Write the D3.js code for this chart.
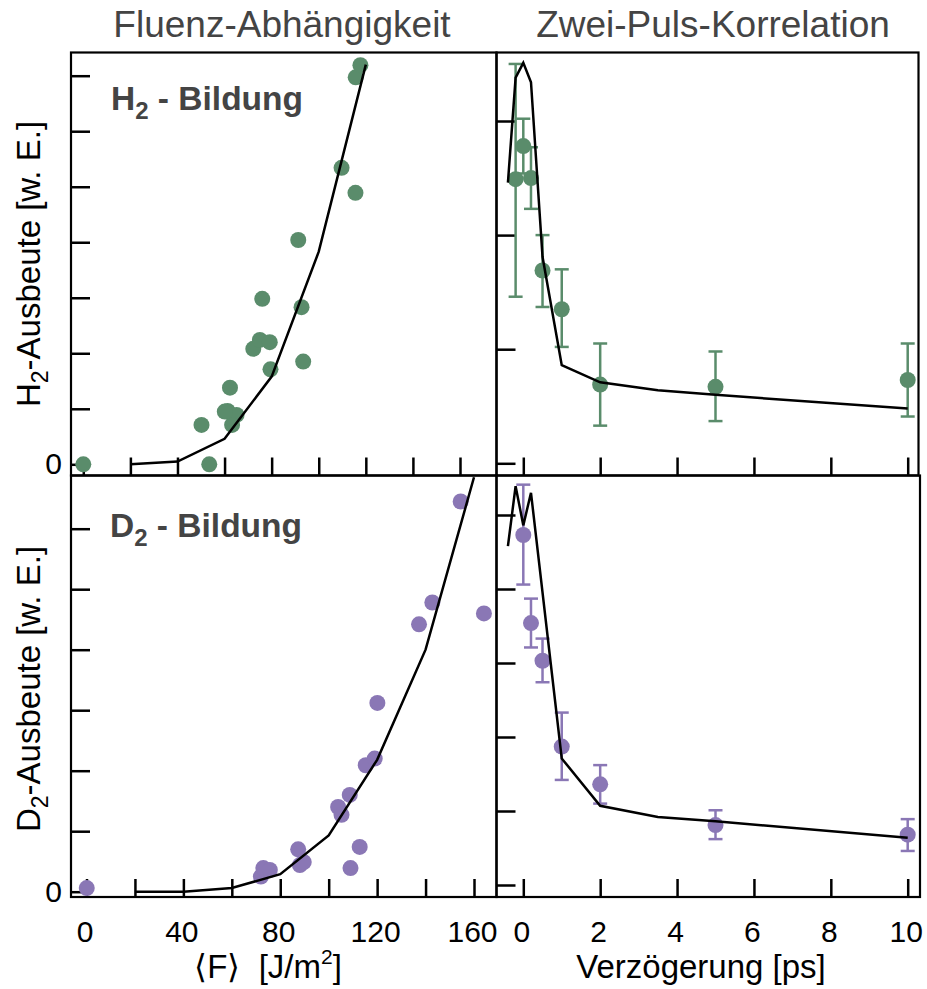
<!DOCTYPE html>
<html>
<head>
<meta charset="utf-8">
<script src="https://cdn.jsdelivr.net/npm/d3@7"></script>
<style>
  body { margin: 0; background: #fff; }
  svg { display: block; }
</style>
</head>
<body>
<svg id="chart" width="927" height="989"></svg>
<script>
// H2 yield vs. mean fluence (upper left)
let h2FluenceF = [0, 53.5, 50.2, 62.3, 61.3, 65.1, 63.2, 60.1, 72.2, 75, 79.2, 79.5, 76, 92.7, 93.4, 91.3, 109.7, 115.6, 115.7, 117.7]
let h2FluenceY = [0, 0, 0.71, 1.38, 0.96, 0.89, 0.71, 0.95, 2.08, 2.24, 2.2, 1.71, 2.98, 2.83, 1.85, 4.04, 5.34, 4.89, 6.97, 7.19]
let h2FitF = [20, 40, 60, 80, 100, 120]
let h2FitY = [0, 0.05, 0.46, 1.58, 3.83, 7.2]

// D2 yield vs. mean fluence (lower left)
let d2FluenceF = [0.1, 72, 73, 75.7, 87.4, 88.1, 89.7, 109, 112.8, 103.9, 105.3, 108.7, 115.3, 119, 120.1, 137.3, 142.8, 154.5, 164.1]
let d2FluenceY = [0.06, 0.25, 0.39, 0.36, 0.7, 0.44, 0.49, 0.39, 0.74, 1.4, 1.27, 1.6, 2.09, 2.2, 3.12, 4.42, 4.78, 6.45, 4.6]
let d2FitF = [20, 40, 60, 80, 100, 120, 140, 160]
let d2FitY = [0, 0, 0.06, 0.29, 0.93, 2.18, 4.0, 6.85]

// H2 two-pulse correlation (upper right)
let h2DelayT = [-0.2, 0, 0.2, 0.5, 1, 2, 5, 10]
let h2DelayY = [2.49, 2.78, 2.5, 1.69, 1.35, 0.69, 0.67, 0.73]
let h2DelayHi = [3.5, 3.02, 2.77, 2.0, 1.7, 1.05, 0.98, 1.05]
let h2DelayLo = [1.46, 2.54, 2.23, 1.37, 1.02, 0.33, 0.37, 0.41]
let h2DelayFitT = [-0.4, -0.2, 0, 0.2, 0.5, 1, 2, 3.5, 5, 10]
let h2DelayFitY = [2.46, 3.38, 3.51, 3.34, 1.81, 0.86, 0.71, 0.64, 0.6, 0.48]

// D2 two-pulse correlation (lower right)
let d2DelayT = [0, 0.2, 0.5, 1, 2, 5, 10]
let d2DelayY = [4.73, 3.54, 3.03, 1.87, 1.36, 0.81, 0.68]
let d2DelayHi = [5.41, 3.87, 3.33, 2.33, 1.62, 1.01, 0.89]
let d2DelayLo = [4.06, 3.21, 2.74, 1.42, 1.1, 0.62, 0.46]
let d2DelayFitT = [-0.4, -0.2, 0, 0.2, 1, 2, 3.5, 5, 10]
let d2DelayFitY = [4.58, 5.39, 4.86, 5.3, 1.71, 1.07, 0.92, 0.86, 0.64]

let fluenceTicks = [0, 20, 40, 60, 80, 100, 120, 140, 160]
let fluenceLabels = [0, 40, 80, 120, 160]
let delayTicks = [0, 2, 4, 6, 8, 10]

let green = '#5a8c6b'
let purple = '#8a77b5'
let font = "'Liberation Sans', Arial, Helvetica, sans-serif"

let svg = d3.select('#chart')

// panel boxes [left, top, right, bottom]
let panels = [
  {
    name: 'h2f', box: [71, 52.5, 496.5, 475.5], color: green,
    x: d3.scaleLinear().domain([0, 160]).range([83.3, 460]),
    y: d3.scaleLinear().domain([0, 7]).range([464.3, 75.7]),
    xTicks: fluenceTicks, xLabels: [], yTicks: d3.range(0, 8), yZero: true,
    px: h2FluenceF, py: h2FluenceY, fx: h2FitF, fy: h2FitY
  },
  {
    name: 'd2f', box: [71, 475.5, 496.5, 897], color: purple,
    x: d3.scaleLinear().domain([0, 160]).range([86.5, 474]),
    y: d3.scaleLinear().domain([0, 6]).range([891.7, 528.7]),
    xTicks: fluenceTicks, xLabels: fluenceLabels, yTicks: d3.range(0, 7), yZero: true,
    px: d2FluenceF, py: d2FluenceY, fx: d2FitF, fy: d2FitY
  },
  {
    name: 'h2t', box: [496.5, 52.5, 918.5, 475.5], color: green,
    x: d3.scaleLinear().domain([0, 10]).range([523.3, 907.7]),
    y: d3.scaleLinear().domain([0, 3]).range([463.3, 121]),
    xTicks: delayTicks, xLabels: [], yTicks: d3.range(0, 4), yZero: false,
    px: h2DelayT, py: h2DelayY, hi: h2DelayHi, lo: h2DelayLo, fx: h2DelayFitT, fy: h2DelayFitY
  },
  {
    name: 'd2t', box: [496.5, 475.5, 920, 897], color: purple,
    x: d3.scaleLinear().domain([0, 10]).range([523.3, 907.7]),
    y: d3.scaleLinear().domain([0, 5]).range([885, 515]),
    xTicks: delayTicks, xLabels: delayTicks, yTicks: d3.range(0, 6), yZero: false,
    px: d2DelayT, py: d2DelayY, hi: d2DelayHi, lo: d2DelayLo, fx: d2DelayFitT, fy: d2DelayFitY
  }
]

panels.forEach(drawPanel)

function drawPanel (p) {
  let [left, top, right, bottom] = p.box

  svg.append('clipPath').attr('id', 'clip-' + p.name)
    .append('rect')
    .attr('x', left).attr('y', top)
    .attr('width', right - left).attr('height', bottom - top)

  // bottom axis, ticks pointing inward
  let xAxis = d3.axisBottom(p.x)
    .tickValues(p.xTicks)
    .tickSizeInner(-18).tickSizeOuter(0).tickPadding(24)
    .tickFormat(d => p.xLabels.includes(d) ? d : '')
  let xg = svg.append('g')
    .attr('transform', `translate(0,${bottom})`)
    .call(xAxis)
  styleAxis(xg)
  xg.selectAll('text').attr('dx', -2)

  // left axis, only the zero gets a label
  let yAxis = d3.axisLeft(p.y)
    .tickValues(p.yTicks)
    .tickSizeInner(-19).tickSizeOuter(0).tickPadding(9)
    .tickFormat(d => (p.yZero && d === 0) ? '0' : '')
  let yg = svg.append('g')
    .attr('transform', `translate(${left},0)`)
    .call(yAxis)
  styleAxis(yg)

  // frame
  svg.append('rect')
    .attr('x', left).attr('y', top)
    .attr('width', right - left).attr('height', bottom - top)
    .attr('fill', 'none')
    .attr('stroke', '#000')
    .attr('stroke-width', 2.2)

  let idx = d3.range(p.px.length)

  // error bars
  if (p.hi) {
    let eb = svg.append('g')
      .attr('stroke', p.color)
      .attr('stroke-width', 2.5)
    eb.selectAll('line.bar').data(idx).enter().append('line')
      .attr('class', 'bar')
      .attr('x1', i => p.x(p.px[i])).attr('x2', i => p.x(p.px[i]))
      .attr('y1', i => p.y(p.lo[i])).attr('y2', i => p.y(p.hi[i]))
    eb.selectAll('line.capHi').data(idx).enter().append('line')
      .attr('class', 'capHi')
      .attr('x1', i => p.x(p.px[i]) - 7).attr('x2', i => p.x(p.px[i]) + 7)
      .attr('y1', i => p.y(p.hi[i])).attr('y2', i => p.y(p.hi[i]))
    eb.selectAll('line.capLo').data(idx).enter().append('line')
      .attr('class', 'capLo')
      .attr('x1', i => p.x(p.px[i]) - 7).attr('x2', i => p.x(p.px[i]) + 7)
      .attr('y1', i => p.y(p.lo[i])).attr('y2', i => p.y(p.lo[i]))
  }

  // data points
  svg.append('g').selectAll('circle')
    .data(idx)
    .enter()
    .append('circle')
    .attr('cx', i => p.x(p.px[i]))
    .attr('cy', i => p.y(p.py[i]))
    .attr('r', 8)
    .attr('fill', p.color)

  // model curve
  let line = d3.line()
    .x(i => p.x(p.fx[i]))
    .y(i => p.y(p.fy[i]))
  svg.append('path')
    .attr('d', line(d3.range(p.fx.length)))
    .attr('clip-path', `url(#clip-${p.name})`)
    .attr('fill', 'none')
    .attr('stroke', '#000')
    .attr('stroke-width', 2.5)
    .attr('stroke-linejoin', 'miter')
}

function styleAxis (g) {
  g.select('.domain').remove()
  g.attr('font-size', 30).attr('font-family', font)
  g.selectAll('.tick line').attr('stroke', '#000').attr('stroke-width', 2.5)
  g.selectAll('.tick text').attr('fill', '#000')
}

// column titles
svg.append('text')
  .attr('x', 282).attr('y', 36.5)
  .attr('text-anchor', 'middle')
  .attr('font-family', font).attr('font-size', 37)
  .attr('fill', '#444')
  .text('Fluenz-Abhängigkeit')
svg.append('text')
  .attr('x', 713).attr('y', 36.5)
  .attr('text-anchor', 'middle')
  .attr('font-family', font).attr('font-size', 37)
  .attr('fill', '#444')
  .text('Zwei-Puls-Korrelation')

// panel tags
function tag (x, y, letter) {
  let t = svg.append('text')
    .attr('x', x).attr('y', y)
    .attr('font-family', font).attr('font-size', 33.5)
    .attr('font-weight', 'bold')
    .attr('fill', '#444')
  t.append('tspan').text(letter)
  t.append('tspan').attr('font-size', 24).attr('dy', 9).text('2')
  t.append('tspan').attr('dy', -9).text(' - Bildung')
}
tag(111, 110, 'H')
tag(110, 536.5, 'D')

// y axis titles
function yTitle (cy, letter) {
  let t = svg.append('text')
    .attr('transform', `translate(40,${cy}) rotate(-90)`)
    .attr('text-anchor', 'middle')
    .attr('font-family', font).attr('font-size', 33)
    .attr('fill', '#000')
  t.append('tspan').text(letter)
  t.append('tspan').attr('font-size', 23).attr('dy', 8).text('2')
  t.append('tspan').attr('dy', -8).text('-Ausbeute [w. E.]')
}
yTitle(264, 'H')
yTitle(689, 'D')

// x axis titles
let fx = svg.append('text')
  .attr('x', 268).attr('y', 978)
  .attr('text-anchor', 'middle')
  .attr('font-family', font).attr('font-size', 33)
  .attr('fill', '#000')
fx.append('tspan').text('\u27E8F\u27E9\u00A0\u00A0[J/m')
fx.append('tspan').attr('font-size', 21).attr('dy', -14).text('2')
fx.append('tspan').attr('dy', 14).text(']')

svg.append('text')
  .attr('x', 701).attr('y', 978)
  .attr('text-anchor', 'middle')
  .attr('font-family', font).attr('font-size', 33)
  .attr('fill', '#000')
  .text('Verzögerung [ps]')
</script>
</body>
</html>
